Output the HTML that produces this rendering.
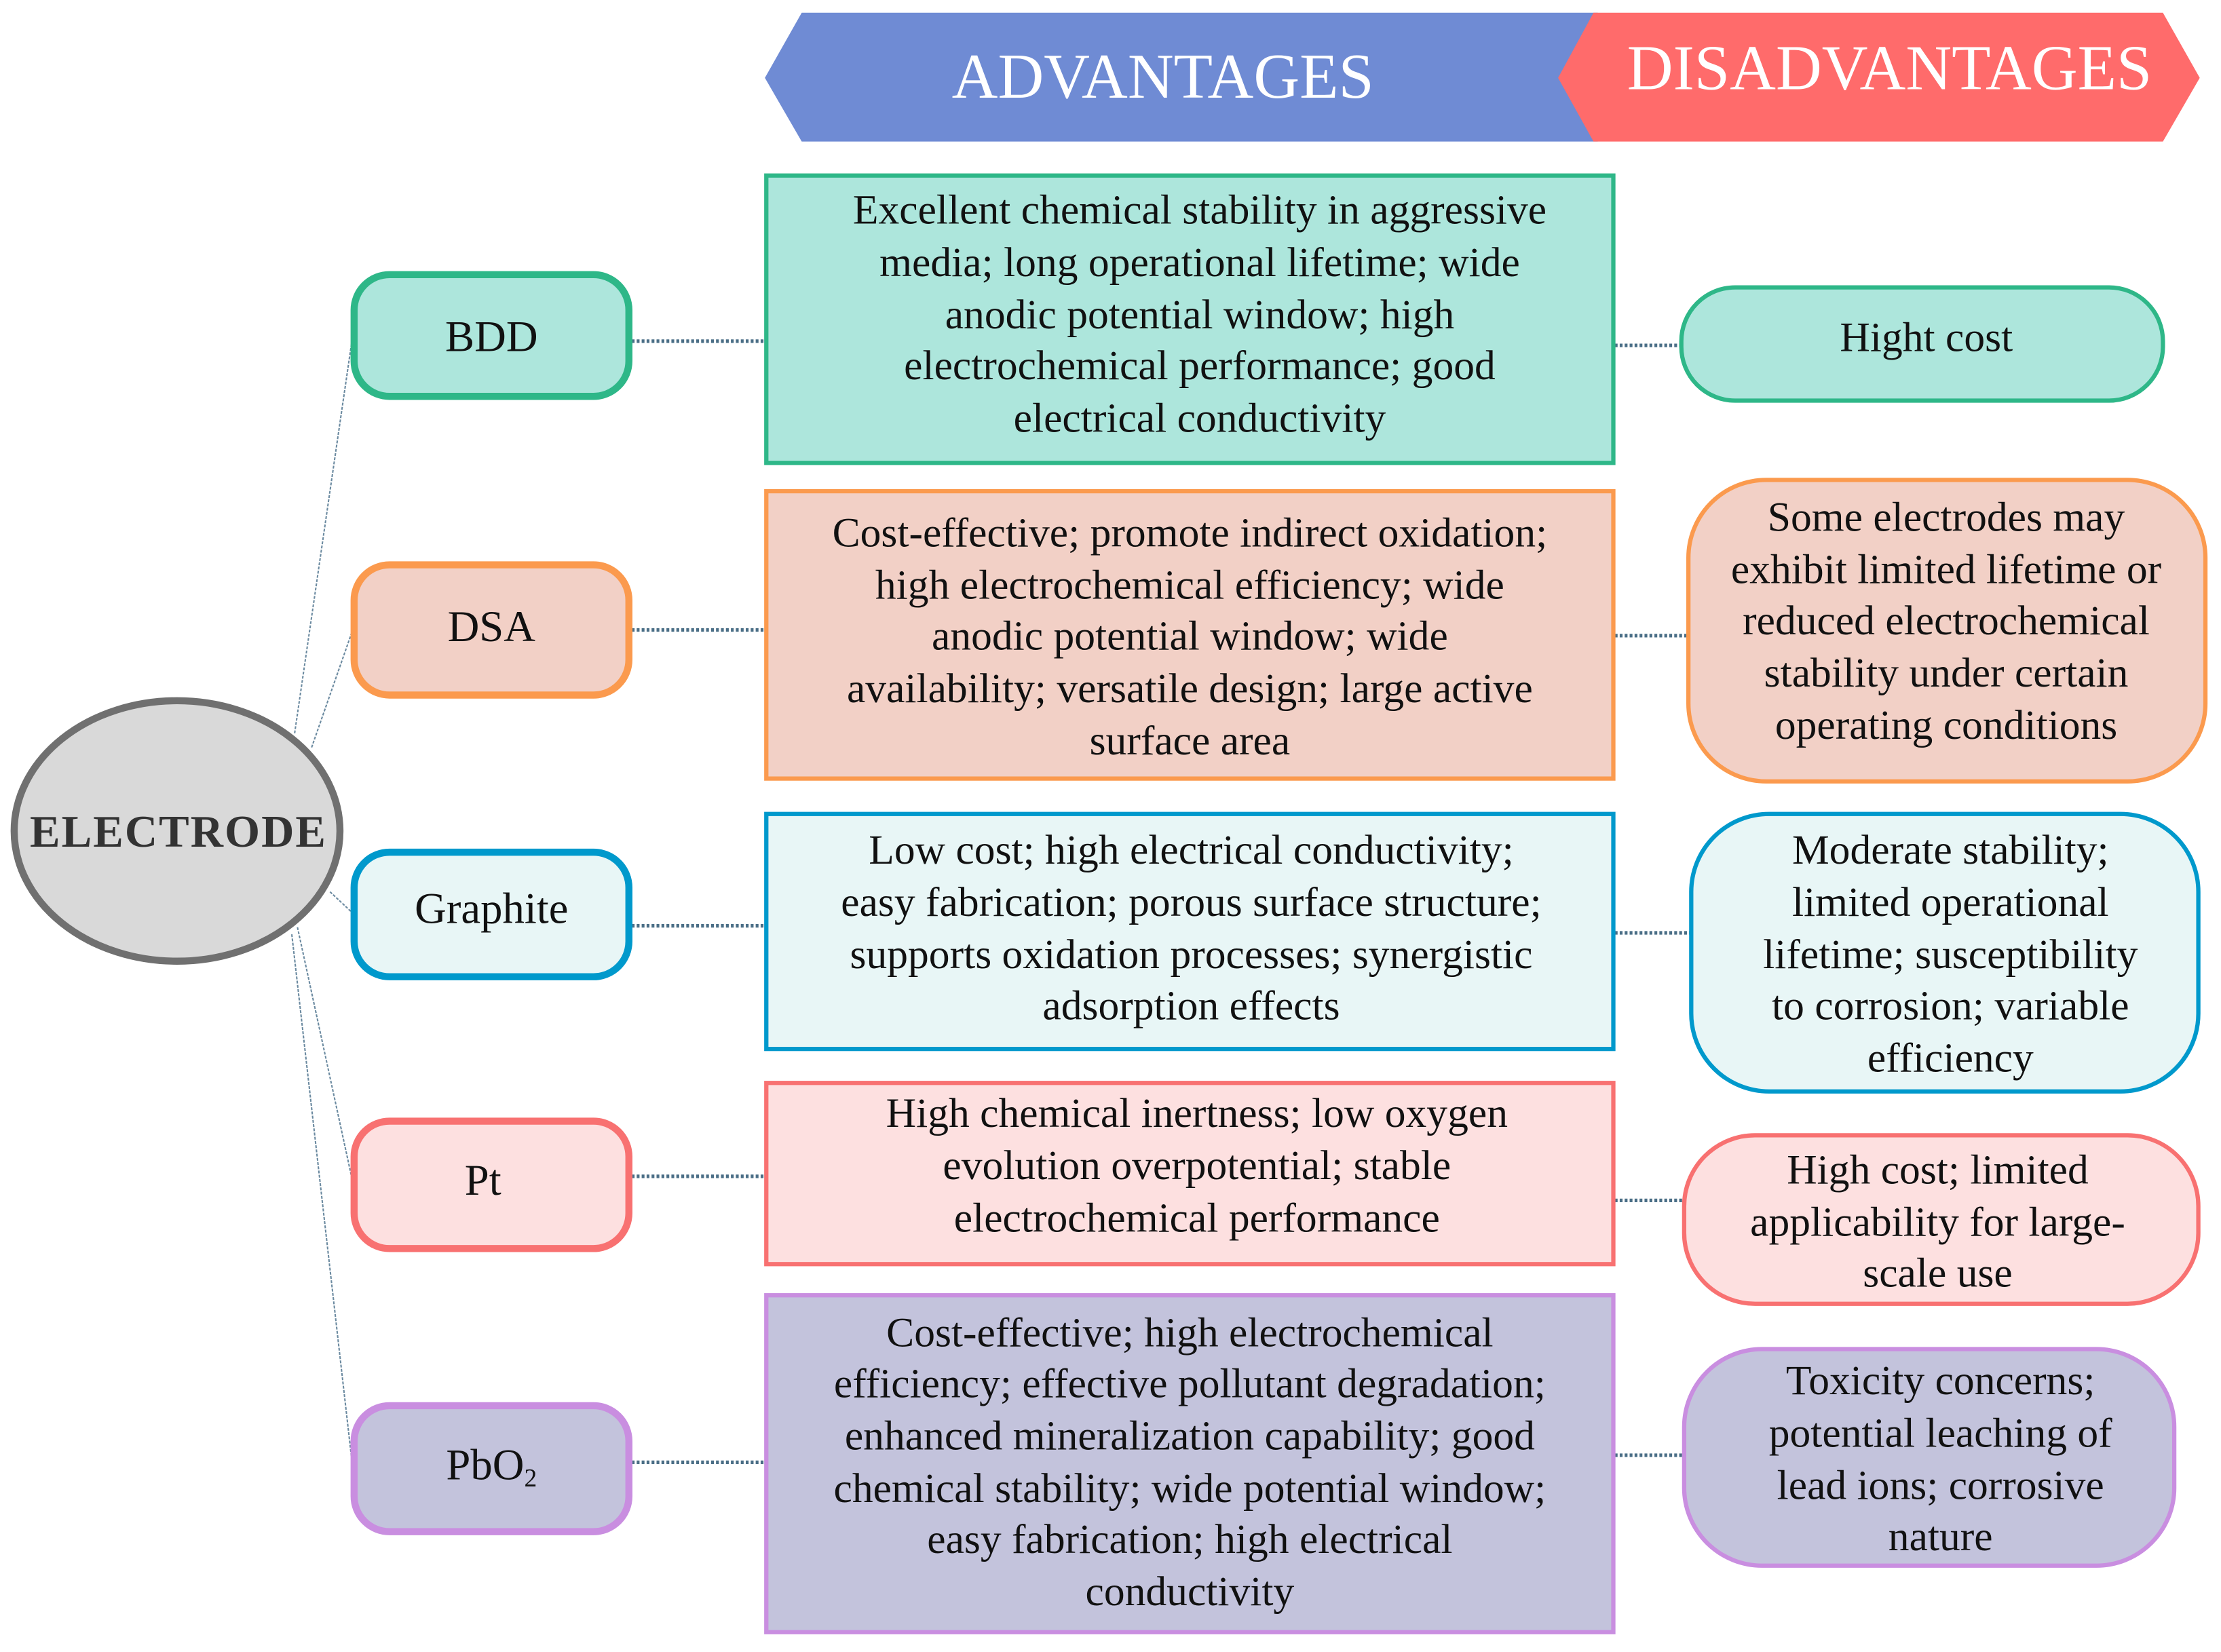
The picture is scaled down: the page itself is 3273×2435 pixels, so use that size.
<!DOCTYPE html>
<html><head><meta charset="utf-8"><style>
html,body{margin:0;padding:0;background:#fff;width:3273px;height:2435px;overflow:hidden}
svg{display:block}
text{font-family:"Liberation Serif",serif;fill:#111;text-anchor:middle}
.t{font-size:29.5px}
</style></head><body>
<svg width="3273" height="2435" viewBox="0 0 1568 1167" preserveAspectRatio="none" xmlns="http://www.w3.org/2000/svg">
<!-- banners -->
<polygon points="540,55 566,9 1128,9 1128,100 566,100" fill="#6f8bd4"/>
<polygon points="1100,55 1125,9 1527,9 1553,55 1527,100 1125,100" fill="#ff6b6b"/>
<text x="821" y="69" style="font-size:45px;fill:#fff">ADVANTAGES</text>
<text x="1334" y="63" style="font-size:45px;fill:#fff">DISADVANTAGES</text>

<!-- tree lines -->
<g stroke="#6b8aa0" stroke-width="1" fill="none" stroke-dasharray="2,1">
<line x1="208" y1="518" x2="249" y2="237"/>
<line x1="220" y1="528" x2="249" y2="445"/>
<line x1="233" y1="630" x2="249" y2="645"/>
<line x1="210" y1="655" x2="249" y2="835"/>
<line x1="206" y1="660" x2="249" y2="1037"/>
</g>

<!-- ellipse -->
<ellipse cx="125" cy="587" rx="115" ry="92" fill="#d9d9d9" stroke="#707070" stroke-width="5"/>
<text x="126" y="598" style="font-size:32px;font-weight:bold;fill:#333;letter-spacing:1px">ELECTRODE</text>

<!-- dotted connectors -->
<g stroke="#4a6e86" stroke-width="2.5" stroke-dasharray="2,1.5">
<line x1="446" y1="241" x2="540" y2="241"/>
<line x1="1140" y1="244" x2="1187" y2="244"/>
<line x1="446" y1="445" x2="540" y2="445"/>
<line x1="1140" y1="449" x2="1192" y2="449"/>
<line x1="446" y1="654" x2="540" y2="654"/>
<line x1="1140" y1="659" x2="1194" y2="659"/>
<line x1="446" y1="831" x2="540" y2="831"/>
<line x1="1140" y1="848" x2="1189" y2="848"/>
<line x1="446" y1="1033" x2="540" y2="1033"/>
<line x1="1140" y1="1028" x2="1189" y2="1028"/>
</g>

<!-- left nodes -->
<rect x="250" y="194" width="194" height="86" rx="25" fill="#ade6dc" stroke="#2eb788" stroke-width="5"/>
<text x="347" y="248" style="font-size:31px">BDD</text>
<rect x="250" y="399" width="194" height="92" rx="25" fill="#f2d0c6" stroke="#fb9a4e" stroke-width="5"/>
<text x="347" y="453" style="font-size:31px">DSA</text>
<rect x="250" y="602" width="194" height="88" rx="25" fill="#e8f6f6" stroke="#0099cc" stroke-width="5"/>
<text x="347" y="652" style="font-size:31px">Graphite</text>
<rect x="250" y="792" width="194" height="90" rx="25" fill="#fde0e0" stroke="#f87171" stroke-width="5"/>
<text x="341" y="844" style="font-size:31px">Pt</text>
<rect x="250" y="993" width="194" height="89" rx="25" fill="#c3c3dc" stroke="#c98ee0" stroke-width="5"/>
<text x="347" y="1045" style="font-size:31px">PbO<tspan style="font-size:18px" dy="5">2</tspan></text>

<!-- middle boxes -->
<rect x="541" y="124" width="598" height="203" fill="#ade6dc" stroke="#2eb788" stroke-width="3"/>
<g class="t">
<text x="847" y="158">Excellent chemical stability in aggressive</text>
<text x="847" y="195">media; long operational lifetime; wide</text>
<text x="847" y="232">anodic potential window; high</text>
<text x="847" y="268">electrochemical performance; good</text>
<text x="847" y="305">electrical conductivity</text>
</g>
<rect x="541" y="347" width="598" height="203" fill="#f2d0c6" stroke="#fb9a4e" stroke-width="3"/>
<g class="t">
<text x="840" y="386">Cost-effective; promote indirect oxidation;</text>
<text x="840" y="423">high electrochemical efficiency; wide</text>
<text x="840" y="459">anodic potential window; wide</text>
<text x="840" y="496">availability; versatile design; large active</text>
<text x="840" y="533">surface area</text>
</g>
<rect x="541" y="575" width="598" height="166" fill="#e8f6f6" stroke="#0099cc" stroke-width="3"/>
<g class="t">
<text x="841" y="610">Low cost; high electrical conductivity;</text>
<text x="841" y="647">easy fabrication; porous surface structure;</text>
<text x="841" y="684">supports oxidation processes; synergistic</text>
<text x="841" y="720">adsorption effects</text>
</g>
<rect x="541" y="765" width="598" height="128" fill="#fde0e0" stroke="#f87171" stroke-width="3"/>
<g class="t">
<text x="845" y="796">High chemical inertness; low oxygen</text>
<text x="845" y="833">evolution overpotential; stable</text>
<text x="845" y="870">electrochemical performance</text>
</g>
<rect x="541" y="915" width="598" height="238" fill="#c3c3dc" stroke="#c98ee0" stroke-width="3"/>
<g class="t">
<text x="840" y="951">Cost-effective; high electrochemical</text>
<text x="840" y="987">efficiency; effective pollutant degradation;</text>
<text x="840" y="1024">enhanced mineralization capability; good</text>
<text x="840" y="1061">chemical stability; wide potential window;</text>
<text x="840" y="1097">easy fabrication; high electrical</text>
<text x="840" y="1134">conductivity</text>
</g>

<!-- right pills -->
<rect x="1187" y="203" width="340" height="80" rx="38" fill="#ade6dc" stroke="#2eb788" stroke-width="3"/>
<text x="1360" y="248" class="t">Hight cost</text>
<rect x="1192" y="339" width="365" height="213" rx="55" fill="#f2d0c6" stroke="#fb9a4e" stroke-width="3"/>
<g class="t">
<text x="1374" y="375">Some electrodes may</text>
<text x="1374" y="412">exhibit limited lifetime or</text>
<text x="1374" y="448">reduced electrochemical</text>
<text x="1374" y="485">stability under certain</text>
<text x="1374" y="522">operating conditions</text>
</g>
<rect x="1194" y="575" width="358" height="196" rx="55" fill="#e8f6f6" stroke="#0099cc" stroke-width="3"/>
<g class="t">
<text x="1377" y="610">Moderate stability;</text>
<text x="1377" y="647">limited operational</text>
<text x="1377" y="684">lifetime; susceptibility</text>
<text x="1377" y="720">to corrosion; variable</text>
<text x="1377" y="757">efficiency</text>
</g>
<rect x="1189" y="802" width="363" height="119" rx="50" fill="#fde0e0" stroke="#f87171" stroke-width="3"/>
<g class="t">
<text x="1368" y="836">High cost; limited</text>
<text x="1368" y="873">applicability for large-</text>
<text x="1368" y="909">scale use</text>
</g>
<rect x="1189" y="953" width="346" height="153" rx="55" fill="#c3c3dc" stroke="#c98ee0" stroke-width="3"/>
<g class="t">
<text x="1370" y="985">Toxicity concerns;</text>
<text x="1370" y="1022">potential leaching of</text>
<text x="1370" y="1059">lead ions; corrosive</text>
<text x="1370" y="1095">nature</text>
</g>
</svg>
</body></html>
